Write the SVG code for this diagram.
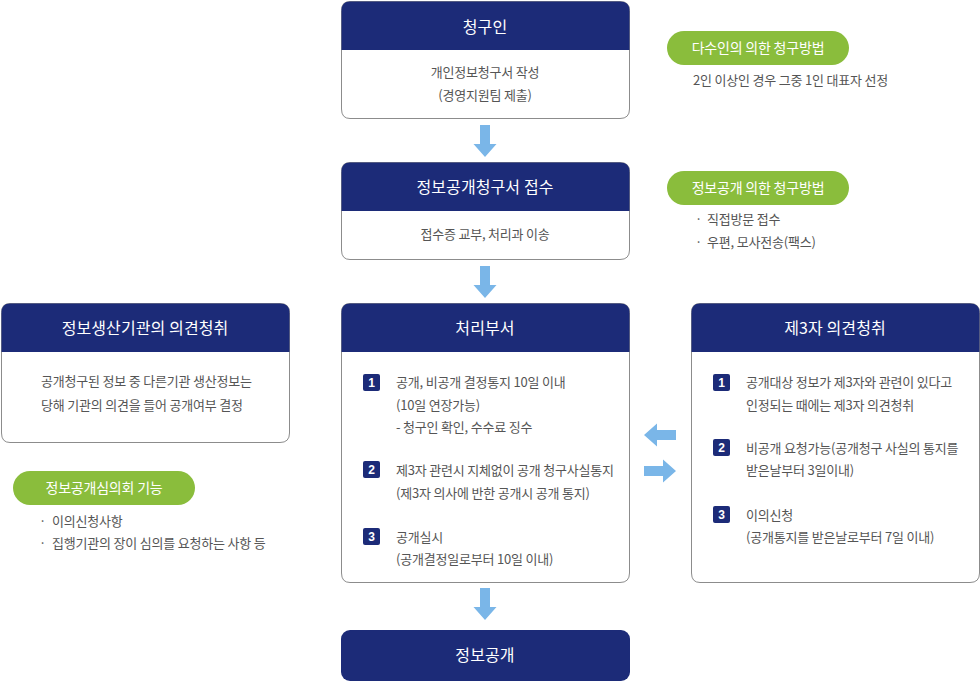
<svg xmlns="http://www.w3.org/2000/svg" width="980" height="681" viewBox="0 0 980 681">
<style>
.box{fill:#fff;stroke:#8c8c8c;stroke-width:1}
.hd{fill:#1c2b78}
.ttl{font-family:"Noto Sans CJK KR","Noto Sans",sans-serif;font-size:16px;fill:#fff;text-anchor:middle;letter-spacing:0.1px}
.tx{font-family:"Noto Sans CJK KR","Noto Sans",sans-serif;font-size:13px;fill:#555;letter-spacing:-0.2px}
.c{text-anchor:middle}
.pill{fill:#8abd3c}
.pt{font-family:"Noto Sans CJK KR","Noto Sans",sans-serif;font-size:14px;fill:#fff;text-anchor:middle;letter-spacing:-0.2px}
.num{fill:#1c2b78}
.nt{font-family:"Liberation Sans",Arial,sans-serif;font-size:12px;font-weight:bold;fill:#fff;text-anchor:middle}
.arr{fill:#7ab6e8}
</style>
<defs>
<path id="dn" d="M-5,0 H5 V19 H11.5 L0,32 L-11.5,19 H-5 Z"/>
</defs>

<g id="n1">
<path class="box" d="M350,1.5 H620 Q629.5,1.5 629.5,10.5 V109 Q629.5,118.5 620,118.5 H350 Q341.5,118.5 341.5,109 V10.5 Q341.5,1.5 350,1.5 Z"/>
<path class="hd" d="M350,1.5 H620 Q629.5,1.5 629.5,10.5 V50 H341.5 V10.5 Q341.5,1.5 350,1.5 Z"/>
<text class="ttl" x="485" y="33">청구인</text>
<text class="tx c" x="485" y="77">개인정보청구서 작성</text>
<text class="tx c" x="485" y="100">(경영지원팀 제출)</text>
</g>

<g id="n2">
<path class="box" d="M350,162.5 H620 Q629.5,162.5 629.5,171.5 V250 Q629.5,259.5 620,259.5 H350 Q341.5,259.5 341.5,250 V171.5 Q341.5,162.5 350,162.5 Z"/>
<path class="hd" d="M350,162.5 H620 Q629.5,162.5 629.5,171.5 V211 H341.5 V171.5 Q341.5,162.5 350,162.5 Z"/>
<text class="ttl" x="485" y="193">정보공개청구서 접수</text>
<text class="tx c" x="485" y="239">접수증 교부, 처리과 이송</text>
</g>

<g id="n3">
<path class="box" d="M350,303.5 H620 Q629.5,303.5 629.5,312.5 V573 Q629.5,582.5 620,582.5 H350 Q341.5,582.5 341.5,573 V312.5 Q341.5,303.5 350,303.5 Z"/>
<path class="hd" d="M350,303.5 H620 Q629.5,303.5 629.5,312.5 V352 H341.5 V312.5 Q341.5,303.5 350,303.5 Z"/>
<text class="ttl" x="485" y="334">처리부서</text>
<rect class="num" x="363" y="374" width="17" height="17" rx="2"/>
<text class="nt" x="371.5" y="387">1</text>
<text class="tx" x="396" y="387">공개, 비공개 결정통지 10일 이내</text>
<text class="tx" x="396" y="410">(10일 연장가능)</text>
<text class="tx" x="396" y="432">- 청구인 확인, 수수료 징수</text>
<rect class="num" x="363" y="461" width="17" height="17" rx="2"/>
<text class="nt" x="371.5" y="474">2</text>
<text class="tx" x="396" y="475">제3자 관련시 지체없이 공개 청구사실통지</text>
<text class="tx" x="396" y="498">(제3자 의사에 반한 공개시 공개 통지)</text>
<rect class="num" x="363" y="528" width="17" height="17" rx="2"/>
<text class="nt" x="371.5" y="541">3</text>
<text class="tx" x="396" y="542">공개실시</text>
<text class="tx" x="396" y="564">(공개결정일로부터 10일 이내)</text>
</g>

<g id="n4">
<path class="box" d="M10,303.5 H280 Q289.5,303.5 289.5,312.5 V433 Q289.5,442.5 280,442.5 H10 Q1.5,442.5 1.5,433 V312.5 Q1.5,303.5 10,303.5 Z"/>
<path class="hd" d="M10,303.5 H280 Q289.5,303.5 289.5,312.5 V352 H1.5 V312.5 Q1.5,303.5 10,303.5 Z"/>
<text class="ttl" x="145" y="334">정보생산기관의 의견청취</text>
<text class="tx" x="41" y="386">공개청구된 정보 중 다른기관 생산정보는</text>
<text class="tx" x="41" y="410">당해 기관의 의견을 들어 공개여부 결정</text>
</g>

<g id="n5">
<path class="box" d="M700,303.5 H970 Q979.5,303.5 979.5,312.5 V573 Q979.5,582.5 970,582.5 H700 Q691.5,582.5 691.5,573 V312.5 Q691.5,303.5 700,303.5 Z"/>
<path class="hd" d="M700,303.5 H970 Q979.5,303.5 979.5,312.5 V352 H691.5 V312.5 Q691.5,303.5 700,303.5 Z"/>
<text class="ttl" x="835" y="334">제3자 의견청취</text>
<rect class="num" x="713" y="374" width="17" height="17" rx="2"/>
<text class="nt" x="721.5" y="387">1</text>
<text class="tx" x="746" y="387">공개대상 정보가 제3자와 관련이 있다고</text>
<text class="tx" x="746" y="410">인정되는 때에는 제3자 의견청취</text>
<rect class="num" x="713" y="439" width="17" height="17" rx="2"/>
<text class="nt" x="721.5" y="452">2</text>
<text class="tx" x="746" y="453">비공개 요청가능(공개청구 사실의 통지를</text>
<text class="tx" x="746" y="475">받은날부터 3일이내)</text>
<rect class="num" x="713" y="506" width="17" height="17" rx="2"/>
<text class="nt" x="721.5" y="519">3</text>
<text class="tx" x="746" y="520">이의신청</text>
<text class="tx" x="746" y="542">(공개통지를 받은날로부터 7일 이내)</text>
</g>

<g id="n6">
<rect class="hd" x="341" y="630" width="289" height="51" rx="9"/>
<text class="ttl" x="485" y="661">정보공개</text>
</g>

<g id="p1">
<rect class="pill" x="667" y="31" width="182" height="34" rx="17"/>
<text class="pt" x="758" y="53">다수인의 의한 청구방법</text>
<text class="tx" x="693" y="85">2인 이상인 경우 그중 1인 대표자 선정</text>
</g>

<g id="p2">
<rect class="pill" x="667" y="171" width="182" height="34" rx="17"/>
<text class="pt" x="758" y="193">정보공개 의한 청구방법</text>
<text class="tx" x="695" y="224">·</text>
<text class="tx" x="707" y="224">직접방문 접수</text>
<text class="tx" x="695" y="247">·</text>
<text class="tx" x="707" y="247">우편, 모사전송(팩스)</text>
</g>

<g id="p3">
<rect class="pill" x="13" y="471" width="182" height="34" rx="17"/>
<text class="pt" x="104" y="493">정보공개심의회 기능</text>
<text class="tx" x="39" y="526">·</text>
<text class="tx" x="52" y="526">이의신청사항</text>
<text class="tx" x="39" y="548">·</text>
<text class="tx" x="52" y="548">집행기관의 장이 심의를 요청하는 사항 등</text>
</g>

<g id="connectors">
<use href="#dn" class="arr" transform="translate(485,125)"/>
<use href="#dn" class="arr" transform="translate(485,266)"/>
<use href="#dn" class="arr" transform="translate(485,588)"/>
<path class="arr" d="M644,435 L657,423.5 V430 H676 V440 H657 V446.5 Z"/>
<path class="arr" d="M676,471 L663,459.5 V466 H644 V476 H663 V482.5 Z"/>
</g>
</svg>
